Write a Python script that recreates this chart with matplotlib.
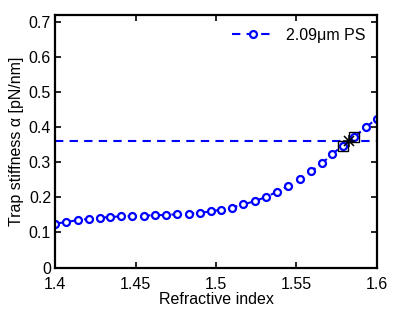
import numpy as np
import matplotlib
matplotlib.use('Agg')
import matplotlib.pyplot as plt

plt.rcParams['font.family'] = ['Liberation Sans', 'DejaVu Sans']

# refractive index sweep and trap stiffness (pN/nm)
n_index = [1.400, 1.407, 1.414, 1.421, 1.428, 1.434, 1.441, 1.448, 1.455, 1.462,
           1.469, 1.476, 1.483, 1.490, 1.497, 1.503, 1.510, 1.517, 1.524, 1.531,
           1.538, 1.545, 1.552, 1.559, 1.566, 1.572, 1.579, 1.586, 1.593, 1.600]
stiffness = [0.125, 0.130, 0.135, 0.139, 0.142, 0.144, 0.146, 0.147, 0.148, 0.149,
             0.150, 0.152, 0.153, 0.156, 0.160, 0.165, 0.171, 0.180, 0.189, 0.201,
             0.216, 0.233, 0.253, 0.274, 0.297, 0.323, 0.347, 0.372, 0.399, 0.424]
measured = 0.36
bracket_x = [1.579, 1.586]
bracket_y = [0.347, 0.372]
match_x, match_y = 1.5825, 0.36

fig, ax = plt.subplots(figsize=(4.15, 3.13), dpi=100)
fig.subplots_adjust(left=0.133, right=0.908, top=0.953, bottom=0.145)

ax.plot(n_index, stiffness, '--o', color='#0000ff', lw=1.5, ms=5,
        mfc='white', mew=1.6, dashes=(4, 3), label='2.09μm PS')
ax.axhline(measured, color='#0000ff', ls='--', lw=1.5, dashes=(4, 3))
ax.plot(bracket_x, bracket_y, 's', color='black', mfc='none', ms=6.5, mew=1.0)
ax.plot(match_x, match_y, '+', color='black', ms=9, mew=1.1)
ax.plot(match_x, match_y, 'x', color='black', ms=7, mew=1.1)

ax.set_xlim(1.4, 1.6)
ax.set_ylim(0, 0.72)
ax.set_xticks([1.4, 1.45, 1.5, 1.55, 1.6])
ax.set_xticklabels(['1.4', '1.45', '1.5', '1.55', '1.6'])
ax.set_yticks(np.arange(0, 0.71, 0.1))
ax.set_yticklabels(['0', '0.1', '0.2', '0.3', '0.4', '0.5', '0.6', '0.7'])
ax.tick_params(axis='both', direction='in', top=True, right=True, length=4,
               width=1.2, labelsize=11.5)
ax.tick_params(axis='x', pad=7)
ax.tick_params(axis='y', pad=3)
for s in ax.spines.values():
    s.set_linewidth(1.6)

ax.set_xlabel('Refractive index', fontsize=11.5, labelpad=0)
ax.set_ylabel('Trap stiffness α [pN/nm]', fontsize=11.5, labelpad=3)
ax.legend(loc='upper right', frameon=False, fontsize=11.5, handlelength=2.6,
          borderaxespad=0.6, bbox_to_anchor=(1.015, 1.012))

fig.savefig('out.png', dpi=100, facecolor='white')
